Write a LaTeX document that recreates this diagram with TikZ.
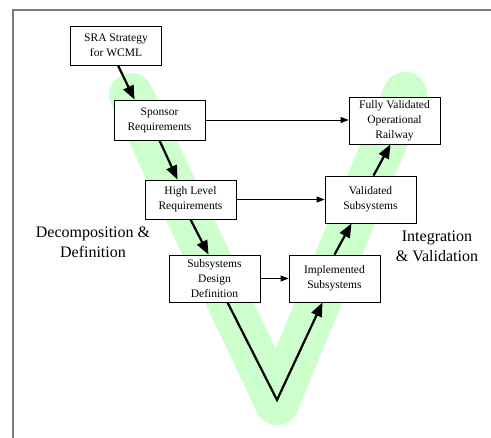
\documentclass[tikz,border=0pt]{standalone}
\usepackage{fontspec}
\setmainfont{Liberation Serif}
\usetikzlibrary{arrows.meta}

\definecolor{vgreen}{HTML}{CCFFCC}
\definecolor{framegray}{HTML}{7A7A7A}

\tikzset{
  stage/.style={draw, fill=white, line width=0.8pt, minimum width=91pt, inner sep=0pt,
    align=center, font=\fontsize{11.5}{15}\selectfont},
  phase/.style={align=center, font=\fontsize{16}{20}\selectfont},
  flow/.style={line width=2.2pt, -{Triangle[length=14pt,width=11pt]}},
  link/.style={line width=0.8pt, -{Triangle[length=8pt,width=6pt]}},
  vband/.style={line width=44pt, vgreen, line cap=round, line join=round}
}

\begin{document}
\begin{tikzpicture}[x=1pt,y=-1pt]
        \useasboundingbox (0,0) rectangle (491,438);
        \draw[framegray, line width=1.2pt] (13,438) -- (13,10) -- (491,10);   % frame
        \draw[vband] (131,95) -- (277,403) -- (405,94);   % the V

        % left arm
        \node[stage, minimum height=39pt] (sra) at (116,45.5) {SRA Strategy\\for WCML};
        \node[stage, minimum height=40pt] (sponsor) at (159.5,120) {Sponsor\\Requirements};
        \node[stage, minimum height=39pt] (highlevel) at (190.5,199.5) {High Level\\Requirements};
        \node[stage, minimum height=47pt] (subdesign) at (214.5,278.5) {Subsystems\\Design\\Definition};
        % right arm
        \node[stage, minimum height=47pt] (implemented) at (334.5,278.5) {Implemented\\Subsystems};
        \node[stage, minimum height=47pt] (validated) at (370.5,199.5) {Validated\\Subsystems};
        \node[stage, minimum height=47pt] (railway) at (394.5,120.5) {Fully Validated\\Operational\\Railway};

        \node[phase] (decomp) at (93,242) {Decomposition \&\\Definition};
        \node[phase] (integr) at (437,246) {Integration\\\& Validation};

        \coordinate (vbottom) at (277,400);

        \draw[flow] ([xshift=2pt]sra.south) -- ([xshift=-25pt]sponsor.north);
        \draw[flow] (sponsor.south) -- ([xshift=-13pt]highlevel.north);
        \draw[flow] (highlevel.south) -- ([xshift=-6pt]subdesign.north);
        \draw[flow] ([xshift=13pt]subdesign.south) -- (vbottom) -- ([xshift=-12pt]implemented.south);
        \draw[flow] (implemented.north) -- ([xshift=-19pt]validated.south);
        \draw[flow] ([xshift=3pt]validated.north) -- ([xshift=-4pt]railway.south);

        \draw[link] (sponsor.east) -- (railway.west |- sponsor.east);
        \draw[link] (highlevel.east) -- (validated.west);
        \draw[link] (subdesign.east) -- (implemented.west);
\end{tikzpicture}
\end{document}
